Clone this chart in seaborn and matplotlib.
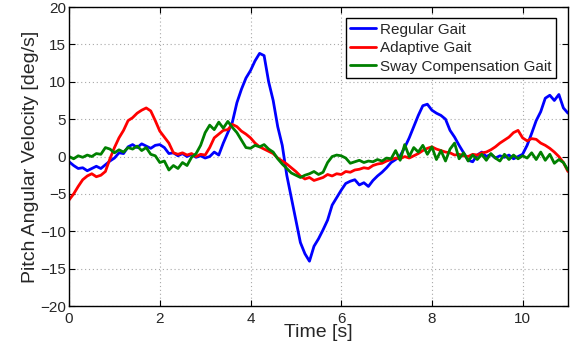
import numpy as np
import pandas as pd
import matplotlib
matplotlib.use("Agg")
import matplotlib.pyplot as plt
import seaborn as sns

time_s = [round(i * 0.1, 1) for i in range(111)]

regular_gait = [
    -0.7, -1.2, -1.6, -1.5, -1.9, -1.6, -1.3, -1.6, -1.1, -0.6,
    -0.2, 0.5, 0.4, 1.3, 1.6, 1.2, 1.7, 1.4, 1.1, 1.5,
    1.6, 1.2, 0.4, 0.5, 0.1, 0.4, 0.0, 0.3, -0.1, 0.1,
    -0.2, 0.0, 0.6, 0.2, 1.8, 3.2, 4.6, 7.2, 9.0, 10.5,
    11.5, 12.8, 13.8, 13.5, 10.0, 7.5, 4.0, 1.5, -2.5, -5.5,
    -8.5, -11.5, -13.0, -14.0, -12.0, -11.0, -9.8, -8.5, -6.5, -5.5,
    -4.5, -3.6, -3.3, -3.1, -3.8, -3.5, -4.0, -3.2, -2.6, -2.1,
    -1.5, -0.8, -0.4, 0.1, 1.2, 2.5, 4.0, 5.5, 6.8, 7.0,
    6.2, 5.8, 5.5, 5.0, 3.5, 2.6, 1.5, 0.5, -0.5, -0.7,
    0.2, 0.6, 0.0, 0.3, -0.2, 0.1, -0.1, 0.2, -0.3, 0.0,
    0.3, 1.5, 3.1, 4.8, 6.0, 7.8, 8.2, 7.5, 8.3, 6.5,
    5.8,
]

adaptive_gait = [
    -5.8, -5.0, -4.0, -3.1, -2.6, -2.3, -2.7, -2.5, -2.0, -0.3,
    1.2, 2.5, 3.5, 4.8, 5.2, 5.8, 6.2, 6.5, 6.1, 4.8,
    3.4, 2.6, 1.8, 0.5, 0.3, 0.5, 0.2, 0.4, 0.0, 0.3,
    0.2, 1.2, 2.5, 3.0, 3.5, 3.6, 4.3, 4.0, 3.4, 3.0,
    2.5, 1.8, 1.3, 1.0, 0.7, 0.4, -0.2, -0.6, -1.0, -1.5,
    -2.0, -2.6, -3.0, -2.8, -3.2, -3.0, -2.8, -2.4, -2.6, -2.3,
    -2.4, -2.0, -2.1, -1.8, -1.7, -1.5, -1.6, -1.2, -1.0, -0.9,
    -0.6, -0.4, -0.2, -0.3, 0.0, -0.2, 0.1, 0.4, 0.8, 1.1,
    1.3, 1.0, 0.8, 0.6, 0.5, 0.2, 0.3, 0.1, 0.0, 0.3,
    0.2, 0.5, 0.6, 0.9, 1.3, 1.8, 2.2, 2.6, 3.2, 3.5,
    2.5, 2.1, 2.4, 2.3, 1.8, 1.5, 1.1, 0.6, 0.0, -0.8,
    -2.0,
]

sway_compensation_gait = [
    0.0, -0.3, 0.1, -0.1, 0.2, 0.0, 0.4, 0.3, 1.2, 1.0,
    0.5, 0.9, 0.6, 1.2, 1.0, 1.4, 0.8, 1.2, 0.3, 0.1,
    -0.8, -0.6, -1.8, -1.2, -1.6, -0.8, -1.2, -0.1, 0.4, 1.5,
    3.2, 4.2, 3.6, 4.6, 3.8, 4.7, 3.9, 3.2, 2.2, 1.2,
    1.1, 1.5, 1.3, 1.6, 1.0, 0.6, -0.3, -1.0, -1.6, -2.2,
    -2.5, -2.8, -2.5, -2.3, -2.0, -2.4, -2.1, -0.8, 0.0, 0.2,
    0.1, -0.2, -0.9, -0.7, -0.5, -0.8, -0.6, -0.7, -0.4, -0.6,
    -0.2, -0.3, 0.8, -0.5, 1.6, 0.0, 1.2, 0.6, 1.5, 0.3,
    1.3, -0.4, 0.8, -0.6, 1.0, 1.8, -0.3, 0.5, -0.6, 0.2,
    -0.4, 0.3, -0.5, 0.4, -0.2, -0.6, 0.3, -0.4, 0.2, -0.3,
    0.1, -0.2, 0.5, -0.4, 0.6, -0.5, 0.3, -0.9, -0.4, -0.8,
    -1.8,
]

series_names = ["Regular Gait", "Adaptive Gait", "Sway Compensation Gait"]
series_colors = ["#0000ff", "#ff0000", "#008000"]
x_ticks = [0, 2, 4, 6, 8, 10]
y_ticks = [-20, -15, -10, -5, 0, 5, 10, 15, 20]

df = pd.concat([
    pd.DataFrame({"t": time_s, "v": regular_gait, "s": series_names[0]}),
    pd.DataFrame({"t": time_s, "v": adaptive_gait, "s": series_names[1]}),
    pd.DataFrame({"t": time_s, "v": sway_compensation_gait, "s": series_names[2]}),
])

sns.set_style("white")
plt.rcParams["font.family"] = ["Liberation Sans", "DejaVu Sans"]

fig = plt.figure(figsize=(5.76, 3.51), dpi=100)
ax = fig.add_axes([0.12, 0.128, 0.866, 0.852])

sns.lineplot(data=df, x="t", y="v", hue="s", hue_order=series_names,
             palette=series_colors, linewidth=2.0, ax=ax, estimator=None,
             sort=False)

ax.set_xlim(0, 11)
ax.set_ylim(-20, 20)
ax.set_xticks(x_ticks)
ax.set_yticks(y_ticks)
ax.set_xticklabels([str(v) for v in x_ticks], fontsize=11)
ax.set_yticklabels([str(v).replace("-", "\u2212") for v in y_ticks], fontsize=11)
ax.grid(True, linestyle=(0, (1, 2.5)), color="#a8a8a8", linewidth=0.8)
ax.tick_params(direction="in", length=4, top=True, right=True,
               bottom=True, left=True, width=0.8, color="black")
ax.tick_params(axis="x", pad=4)
ax.tick_params(axis="y", pad=2)
for sp in ax.spines.values():
    sp.set_visible(True)
    sp.set_color("black")
    sp.set_linewidth(1.0)

ax.set_xlabel("Time [s]", fontsize=14, labelpad=-1)
ax.set_ylabel("Pitch Angular Velocity [deg/s]", fontsize=14, labelpad=1)

leg = ax.legend(loc="upper right", bbox_to_anchor=(0.976, 0.963),
                fontsize=11, frameon=True, fancybox=False,
                handlelength=1.7, handletextpad=0.25, borderpad=0.3,
                labelspacing=0.3, borderaxespad=0)
leg.get_frame().set_edgecolor("black")
leg.get_frame().set_linewidth(1.0)
leg.get_frame().set_alpha(1)

fig.savefig("out.png", dpi=100)
